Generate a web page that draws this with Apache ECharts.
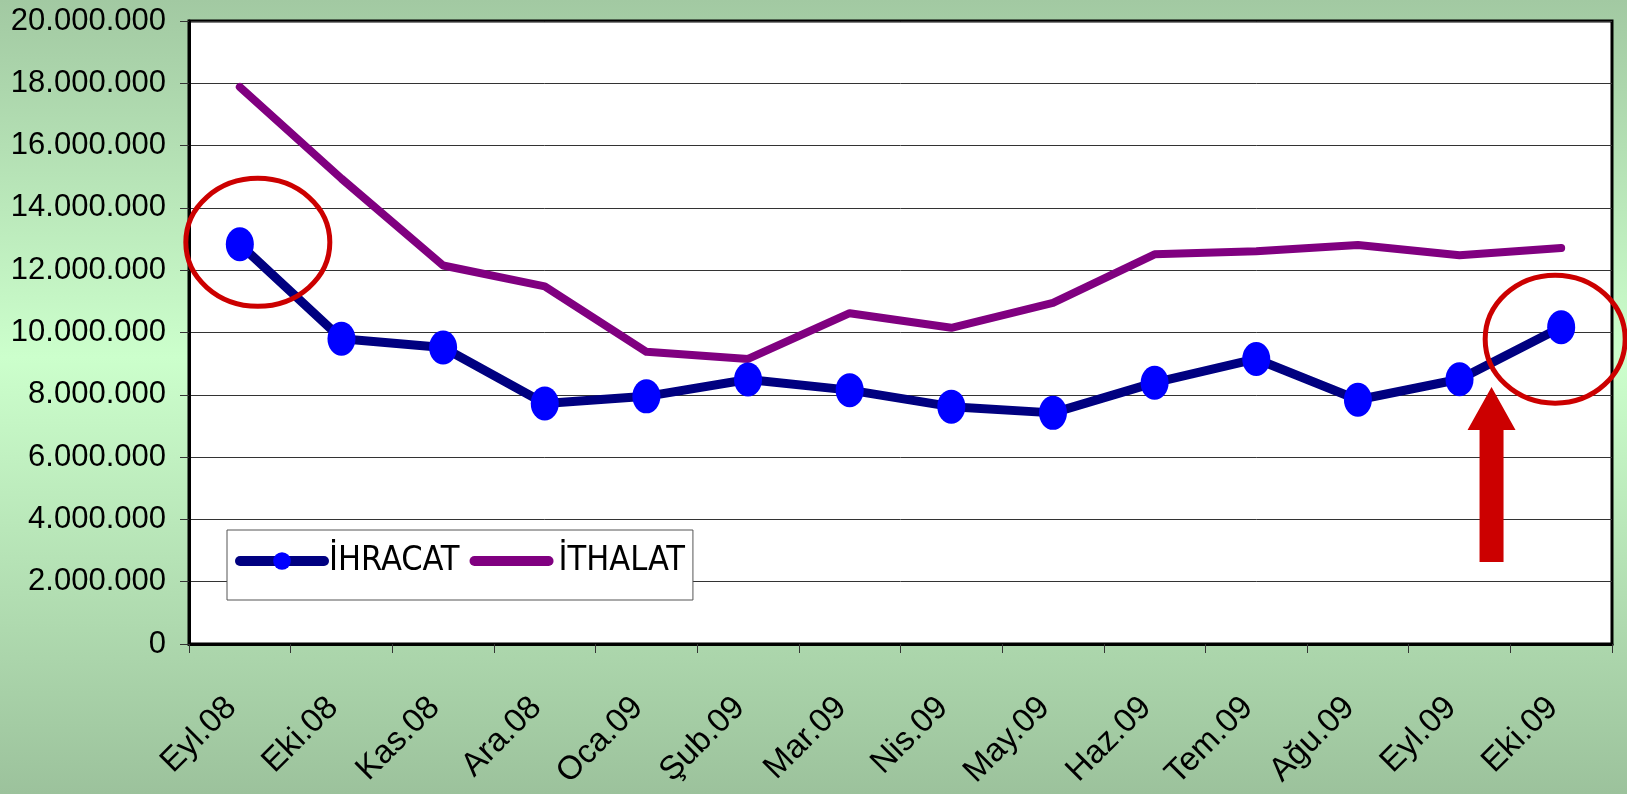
<!DOCTYPE html>
<html><head><meta charset="utf-8">
<script src="https://cdn.jsdelivr.net/npm/echarts@6/dist/echarts.min.js"></script>
<style>html,body{margin:0;padding:0;background:#fff;}#c{width:1627px;height:794px;}</style>
</head><body><div id="c"></div>
<script>
const categories = ['Eyl.08','Eki.08','Kas.08','Ara.08','Oca.09','Şub.09','Mar.09','Nis.09','May.09','Haz.09','Tem.09','Ağu.09','Eyl.09','Eki.09'];
const ihracat = [12830000, 9800000, 9520000, 7720000, 7950000, 8490000, 8150000, 7620000, 7420000, 8390000, 9150000, 7840000, 8500000, 10170000];
const ithalat = [17880000, 14940000, 12150000, 11480000, 9380000, 9150000, 10620000, 10150000, 10950000, 12510000, 12610000, 12810000, 12480000, 12710000];
const seriesNames = ['İHRACAT', 'İTHALAT'];
const yMin = 0, yMax = 20000000, yInterval = 2000000;

function fmt(v){ return String(v).replace(/\B(?=(\d{3})+(?!\d))/g, '.'); }

const chart = echarts.init(document.getElementById('c'), null, {renderer:'canvas'});
const font = '"Liberation Sans", Arial, sans-serif';
chart.setOption({
  animation: false,
  backgroundColor: {type:'linear', x:0, y:0, x2:0, y2:1, colorStops:[
    {offset:0, color:'#a2c9a2'},
    {offset:0.45, color:'#ccffcc'},
    {offset:1, color:'#9cc29c'}
  ]},
  grid: {left:189, right:15, top:21, bottom:150, show:true, backgroundColor:'#ffffff', borderColor:'#000', borderWidth:3},
  xAxis: {
    type:'category', data: categories, boundaryGap:true,
    axisLine:{show:true, lineStyle:{color:'#000', width:3}},
    axisTick:{show:true, length:9, lineStyle:{color:'#333', width:1}},
    axisLabel:{rotate:45, margin:50, fontSize:33, color:'#000', fontFamily:font, interval:0, padding:[0, 12, 0, 0]}
  },
  yAxis: {
    type:'value', min:yMin, max:yMax, interval:yInterval,
    axisLine:{show:true, lineStyle:{color:'#000', width:3}},
    axisTick:{show:true, length:9, lineStyle:{color:'#333', width:1}},
    splitLine:{show:true, lineStyle:{color:'#333', width:1}},
    axisLabel:{margin:23, fontSize:31, color:'#000', fontFamily:font, formatter: fmt}
  },
  legend: {
    left:227, top:530, orient:'horizontal',
    backgroundColor:'#fff', borderColor:'#555', borderWidth:1,
    padding:[14, 8, 22, 8], itemGap:10, itemWidth:84, itemHeight:22,
    textStyle:{fontFamily:'"Liberation Sans Narrow", "DejaVu Sans Condensed", sans-serif', fontSize:34, color:'#000'},
    lineStyle:{width:10, cap:'round'},
    data:[
      {name: seriesNames[0]},
      {name: seriesNames[1], icon:'path://M0,0 M84,22 M5,6 L79,6 A5,5 0 0 1 79,16 L5,16 A5,5 0 0 1 5,6 Z'}
    ]
  },
  series: [
    {name: seriesNames[1], type:'line', data: ithalat, symbol:'none',
     lineStyle:{color:'#800080', width:8, cap:'round', join:'round'}, itemStyle:{color:'#800080'}, z:2},
    {name: seriesNames[0], type:'line', data: ihracat, symbol:'circle', symbolSize:[28,34],
     lineStyle:{color:'#000080', width:9, cap:'round', join:'round'}, itemStyle:{color:'#0000ff'}, z:3}
  ]
});

// annotations positioned from the chart's own scales
const pFirst = chart.convertToPixel({gridIndex:0}, [categories[0], ihracat[0]]);
const pLast = chart.convertToPixel({gridIndex:0}, [categories[13], ihracat[13]]);
const pArrowX = chart.convertToPixel({gridIndex:0}, [categories[12], 0])[0] + 32;
const yTip = chart.convertToPixel({gridIndex:0}, [categories[12], 8250000])[1];
const yHead = chart.convertToPixel({gridIndex:0}, [categories[12], 6870000])[1];
const yBottom = chart.convertToPixel({gridIndex:0}, [categories[12], 2630000])[1];
const red = '#cc0000';
chart.setOption({
  graphic: [
    {type:'ellipse', shape:{cx:pFirst[0]+18, cy:pFirst[1]-2, rx:72, ry:64}, style:{fill:'none', stroke:red, lineWidth:5}, z:10},
    {type:'ellipse', shape:{cx:pLast[0]-6, cy:pLast[1]+12, rx:70, ry:64}, style:{fill:'none', stroke:red, lineWidth:5}, z:10},
    {type:'polygon', shape:{points:[
      [pArrowX, yTip], [pArrowX+24, yHead], [pArrowX+12, yHead], [pArrowX+12, yBottom],
      [pArrowX-12, yBottom], [pArrowX-12, yHead], [pArrowX-24, yHead]
    ]}, style:{fill:red}, z:10}
  ]
});
</script></body></html>
